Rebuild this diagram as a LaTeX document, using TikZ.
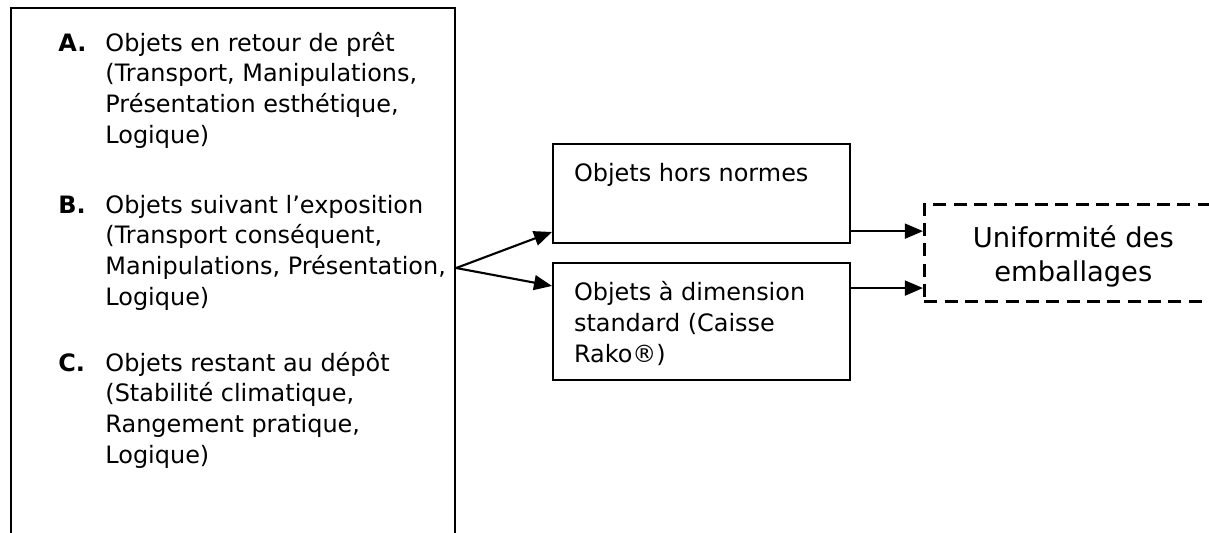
\documentclass[tikz,border=0pt]{standalone}
\usepackage{fontspec}
\setmainfont{DejaVu Sans}
\usetikzlibrary{arrows.meta}

\newcommand{\lignes}[2]{\begin{tabular}[t]{@{}p{#1}@{}}#2\end{tabular}}
\newcommand{\rubrique}[2]{\begin{tabular}[t]{@{}p{22.2pt}@{}l@{}}\textbf{#1}&#2\end{tabular}}

\tikzset{
  cadre/.style={draw, line width=1pt, inner sep=0pt, anchor=north west},
  texte/.style={font=\fontsize{11.3}{14.5}\selectfont},
  fleche/.style={-{Triangle[length=8.5pt,width=7pt]}, line width=1pt}
}

\begin{document}
\begin{tikzpicture}[x=0.472pt, y=-0.472pt]
  \useasboundingbox (0,0) rectangle (1209,532);
  \fill[white] (0,0) rectangle (1209,532);
  \clip (0,0) rectangle (1209,532);

  \node[cadre, minimum width=209.6pt, minimum height=283pt] (liste) at (10,7) {};
  \node[texte, anchor=base west, inner sep=0pt] (itemA) at (58,51)
    {\rubrique{A.}{Objets en retour de prêt\\&(Transport, Manipulations,\\&Présentation esthétique,\\&Logique)}};
  \node[texte, anchor=base west, inner sep=0pt] (itemB) at (58,213)
    {\rubrique{B.}{Objets suivant l’exposition\\&(Transport conséquent,\\&Manipulations, Présentation,\\&Logique)}};
  \node[texte, anchor=base west, inner sep=0pt] (itemC) at (58,371)
    {\rubrique{C.}{Objets restant au dépôt\\&(Stabilité climatique,\\&Rangement pratique,\\&Logique)}};
  \coordinate (fork) at (liste.north east |- 0,268);

  \node[cadre, texte, inner xsep=9.9pt, text height=17.9pt, text depth=28.8pt] (hors) at (552,143)
    {\lignes{120.4pt}{Objets hors normes}};
  \node[cadre, texte, inner xsep=9.9pt, text height=17.9pt, text depth=37.3pt] (std) at (552,262)
    {\lignes{120.4pt}{Objets à dimension\\standard (Caisse\\Rako®)}};
  \node[cadre, line width=1.2pt, dash pattern=on 6.2pt off 3.4pt, minimum width=140.7pt, text height=20.3pt, text depth=25.5pt,
        font=\fontsize{12.9}{16}\selectfont] (unif) at (923,203)
    {\begin{tabular}[t]{@{}c@{}}Uniformité des\\emballages\end{tabular}};

  \draw[fleche] (fork) -- ([yshift=5.7pt]hors.south west);
  \draw[fleche] (fork) -- ([yshift=-11.3pt]std.north west);
  \draw[fleche] ([yshift=6.1pt]hors.south east) coordinate (h) -- (h -| unif.west);
  \draw[fleche] ([yshift=-12.3pt]std.north east) coordinate (s) -- (s -| unif.west);
\end{tikzpicture}
\end{document}
